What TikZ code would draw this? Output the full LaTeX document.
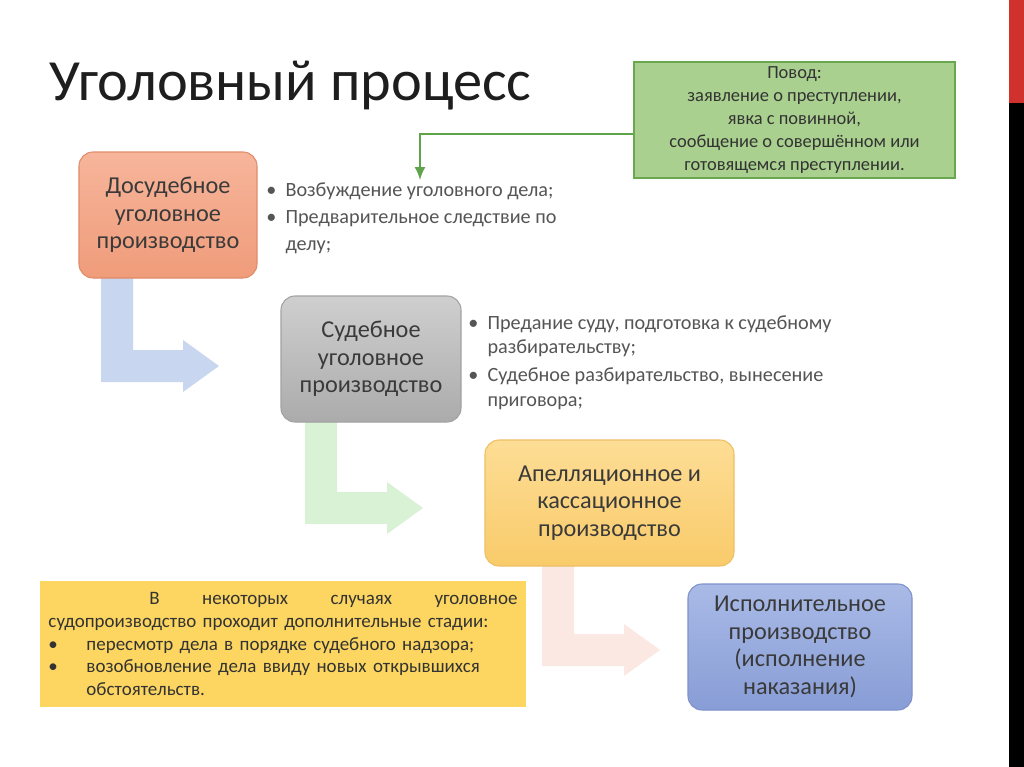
\documentclass[tikz,border=0pt]{standalone}
\usepackage{fontspec}
\setmainfont{Carlito}
\usetikzlibrary{arrows.meta}
\definecolor{sideRed}{HTML}{D0312D}
\definecolor{titleText}{HTML}{1E1E1E}
\definecolor{boxText}{HTML}{3A3A3A}
\definecolor{listText}{HTML}{555555}
\definecolor{arrowBlue}{HTML}{C8D7EF}
\definecolor{arrowGreen}{HTML}{D9F2D5}
\definecolor{arrowPink}{HTML}{FCE8E3}
\definecolor{povodFill}{HTML}{A9D08E}
\definecolor{povodDraw}{HTML}{6AA84F}
\definecolor{povodArrow}{HTML}{5FA34B}
\definecolor{noteFill}{HTML}{FCD660}
\definecolor{dosudTop}{HTML}{F7B59B}
\definecolor{dosudBot}{HTML}{EF9C7A}
\definecolor{dosudDraw}{HTML}{E08C6C}
\definecolor{sudTop}{HTML}{CFCFCF}
\definecolor{sudBot}{HTML}{ABABAB}
\definecolor{sudDraw}{HTML}{A2A2A2}
\definecolor{apelTop}{HTML}{FDDD95}
\definecolor{apelBot}{HTML}{F9CB6A}
\definecolor{apelDraw}{HTML}{EDC064}
\definecolor{ispolTop}{HTML}{A9BAE6}
\definecolor{ispolBot}{HTML}{889DD6}
\definecolor{ispolDraw}{HTML}{7E92CB}
\tikzstyle{stageBox}=[rounded corners=2.8mm, minimum height=25.2mm, align=center, inner sep=0pt, line width=0.6pt, text=boxText, font=\fontsize{13.8}{15.6}\selectfont]
\tikzstyle{bulletList}=[anchor=base west, inner sep=0pt, align=left, text=listText, font=\fontsize{11.5}{15.6}\selectfont]

\begin{document}
\begin{tikzpicture}[x=0.2mm, y=-0.2mm]
\tikzstyle{povodBox}=[draw=povodDraw, line width=0.9pt, fill=povodFill, minimum width=64.2mm, minimum height=23.2mm, align=center, inner sep=0pt, text=black!80, font=\fontsize{10.5}{13}\selectfont]
\tikzstyle{povodLine}=[draw=povodArrow, line width=1.1pt, -{Latex[length=2.6mm, width=2.2mm]}]
\tikzstyle{noteBox}=[fill=noteFill, minimum width=97.2mm, minimum height=25.2mm, text width=93.8mm, align=left, inner sep=0pt, text=black!80, font=\fontsize{10.8}{13}\selectfont]
\useasboundingbox (0,0) rectangle (1024,767);
\fill[white] (0,0) rectangle (1024,767);
\fill[sideRed] (1009,0) rectangle (1024,103);
\fill[black] (1009,103) rectangle (1024,767);
\node[anchor=base west, inner sep=0pt, text=titleText, font=\fontsize{33.2}{40}\selectfont] (title) at (49,100) {Уголовный процесс};
\foreach \x/\t/\c/\col in {101/270/366/arrowBlue, 305/414/508/arrowGreen, 542/557/650/arrowPink}
  \fill[\col] (\x,\t) -- (\x+32,\t) -- (\x+32,\c-16) -- (\x+82,\c-16) -- (\x+82,\c-26)
    -- (\x+118,\c) -- (\x+82,\c+26) -- (\x+82,\c+16) -- (\x,\c+16) -- cycle;
\node[stageBox, minimum width=35.6mm, draw=dosudDraw, top color=dosudTop, bottom color=dosudBot] (dosud) at (168,215) {Досудебное\\уголовное\\производство};
\node[stageBox, minimum width=36mm, draw=sudDraw, top color=sudTop, bottom color=sudBot] (sud) at (371,359) {Судебное\\уголовное\\производство};
\node[stageBox, minimum width=49.8mm, draw=apelDraw, top color=apelTop, bottom color=apelBot] (apel) at (609.5,503) {Апелляционное и\\кассационное\\производство};
\node[stageBox, minimum width=44.8mm, draw=ispolDraw, top color=ispolTop, bottom color=ispolBot] (ispol) at (800,647) {Исполнительное\\производство\\(исполнение\\наказания)};
\node[povodBox] (povod) at (794.5,120) {Повод:\\заявление о преступлении,\\явка с повинной,\\сообщение о совершённом или\\готовящемся преступлении.};
\coordinate (drop) at (420,180);
\draw[povodLine] ([yshift=-2.8mm]povod.west) -| (drop);
\node[bulletList] (dosudList) at (266,196) {\begin{tabular}[t]{@{}l@{\ \ }l@{}}
• & Возбуждение уголовного дела;\\
• & Предварительное следствие по\\
  & делу;
\end{tabular}};
\node[bulletList] (sudList) at (468,329) {\fontsize{11.5}{14.2}\selectfont\begin{tabular}[t]{@{}l@{\ \ }l@{}}
• & Предание суду, подготовка к судебному\\
  & разбирательству;\\[1.5pt]
• & Судебное разбирательство, вынесение\\
  & приговора;
\end{tabular}};
\node[noteBox] (note) at (283,644) {\hspace*{20.2mm}В\hfill некоторых\hfill случаях\hfill уголовное\\
судопроизводство проходит дополнительные стадии:\\
\makebox[7.6mm][l]{•}пересмотр дела в порядке судебного надзора;\\
\makebox[7.6mm][l]{•}возобновление дела ввиду новых открывшихся\\
\hspace*{7.6mm}обстоятельств.};
\end{tikzpicture}
\end{document}
